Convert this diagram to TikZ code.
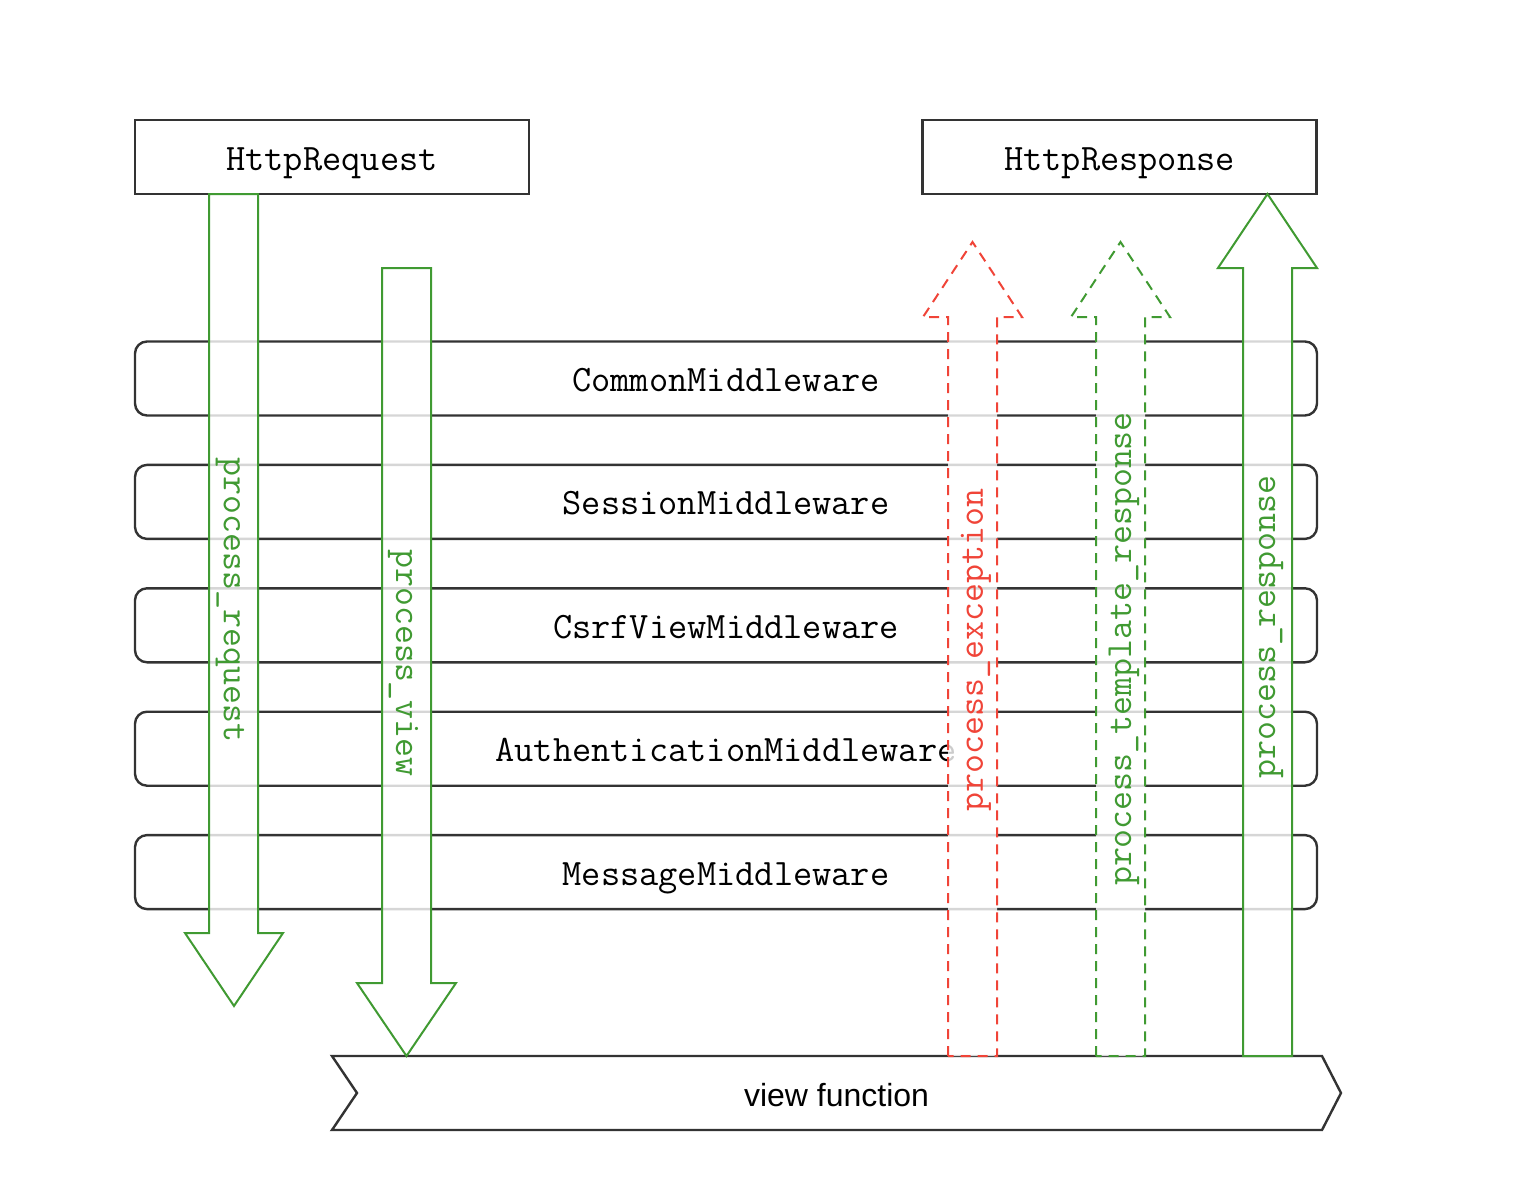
\documentclass[tikz,border=0pt]{standalone}
\usepackage{fontspec}
\setmainfont{Liberation Sans}
\usetikzlibrary{positioning}

\definecolor{flowgreen}{RGB}{64,154,50}
\definecolor{flowred}{RGB}{240,68,56}
\definecolor{boxline}{RGB}{51,51,51}

\begin{document}
\begin{tikzpicture}[
            x=1pt, y=-1pt,
            node distance=47pt,
            httpbox/.style={rectangle, draw=boxline, line width=2.4pt, minimum width=394pt, minimum height=74pt, text height=27pt, text depth=0pt, font=\ttfamily\fontsize{37.3}{40}\selectfont},
            mwbox/.style={rectangle, draw=boxline, line width=2.4pt, rounded corners=12pt, minimum width=1182pt, minimum height=74pt, text height=26pt, text depth=0pt, font=\ttfamily\fontsize{37.3}{40}\selectfont},
            blockarrow/.style={line width=2pt, fill=white, fill opacity=0.8, line join=miter},
            dasharrow/.style={blockarrow, dash pattern=on 10pt off 7pt},
            hook/.style={font=\ttfamily\fontsize{36.8}{40}\selectfont, inner sep=0pt}
        ]
        \useasboundingbox (0,0) rectangle (1516,1189);

        % Request and response
        \node[httpbox] (req) at (332,157) {HttpRequest};
        \node[httpbox] (resp) at (1119.5,157) {HttpResponse};

        % Middleware stack
        \node[mwbox] (common) at (726,378.5) {CommonMiddleware};
        \node[mwbox, below=of common] (session) {SessionMiddleware};
        \node[mwbox, below=of session] (csrf) {CsrfViewMiddleware};
        \node[mwbox, below=of csrf] (auth) {AuthenticationMiddleware};
        \node[mwbox, below=of auth] (message) {MessageMiddleware};

        % View function
        \draw[boxline, line width=2.4pt, line join=miter]
            (332,1056) -- (1322,1056) -- (1341,1093) -- (1322,1130) -- (332,1130) -- (357,1093) -- cycle;
        \node[font=\fontsize{32}{36}\selectfont] (view) at (836.5,1095) {view function};

        % Downward hooks
        \draw[blockarrow, draw=flowgreen]
            (209,194) -- (209,933) -- (185,933) -- (234,1006) -- (283,933) -- (258,933) -- (258,194) -- cycle;
        \draw[blockarrow, draw=flowgreen]
            (382,268) -- (382,983) -- (357,983) -- (406.5,1056) -- (456,983) -- (431,983) -- (431,268) -- cycle;

        % Upward hooks
        \draw[dasharrow, draw=flowred]
            (948,1056) -- (948,317) -- (923,317) -- (972.5,242) -- (1022,317) -- (997,317) -- (997,1056) -- cycle;
        \draw[dasharrow, draw=flowgreen]
            (1096,1056) -- (1096,317) -- (1071,317) -- (1120.5,242) -- (1170,317) -- (1145,317) -- (1145,1056) -- cycle;
        \draw[blockarrow, draw=flowgreen]
            (1243,1056) -- (1243,268) -- (1218,268) -- (1267.5,194) -- (1317,268) -- (1292,268) -- (1292,1056) -- cycle;

        % Hook labels
        \node[hook, text=flowgreen, rotate=-90] (preq) at (230,600) {process\_request};
        \node[hook, text=flowgreen, rotate=-90] (pview) at (403,663) {process\_view};
        \node[hook, text=flowred, rotate=90] (pexc) at (976,650) {process\_exception};
        \node[hook, text=flowgreen, rotate=90] (ptmpl) at (1124,649) {process\_template\_response};
        \node[hook, text=flowgreen, rotate=90] (presp) at (1271,627) {process\_response};

    \end{tikzpicture}
\end{document}
